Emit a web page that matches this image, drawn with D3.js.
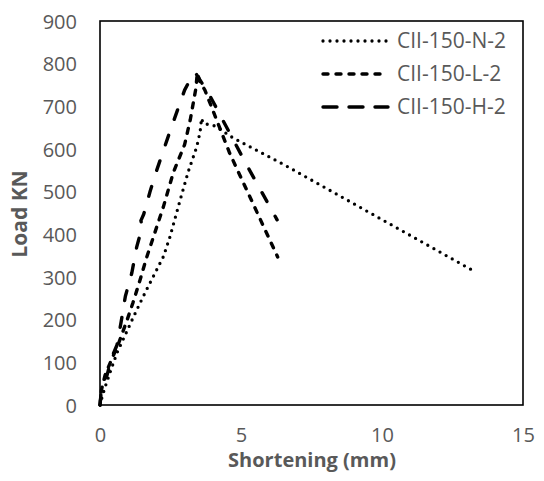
<!DOCTYPE html>
<html>
<head>
<meta charset="utf-8">
<script src="https://cdn.jsdelivr.net/npm/d3@7"></script>
<style>
  html, body { margin: 0; padding: 0; background: #fff; }
  svg text { font-family: "Open Sans", "Liberation Sans", sans-serif; fill: #595959; }
</style>
</head>
<body>
<svg id="chart" width="544" height="481"></svg>
<script>
// ---- data ----
const seriesNames = ["CII-150-N-2", "CII-150-L-2", "CII-150-H-2"];

const n2Shortening = [0, 0.08, 0.18, 0.35, 0.6, 0.9, 1.17, 1.42, 1.65, 1.95, 2.25, 2.48, 2.84, 3.13, 3.43, 3.55, 3.6, 3.66, 3.8, 4.08, 4.72, 6.56, 13.2];
const n2Load       = [0, 20, 42, 75, 122, 165, 204, 239, 270, 309, 348, 394, 480, 547, 605, 640, 672, 660, 658, 654, 626, 562, 316];

const l2Shortening = [0, 0.05, 0.18, 0.4, 0.64, 0.96, 1.17, 1.42, 1.65, 1.9, 2.25, 2.6, 3.0, 3.2, 3.4, 3.45, 3.55, 3.72, 4.6, 6.3];
const l2Load       = [0, 35, 70, 105, 141, 199, 240, 293, 345, 395, 465, 545, 610, 668, 742, 778, 757, 738, 590, 347];

const h2Shortening = [0, 0.04, 0.12, 0.25, 0.42, 0.6, 0.75, 0.9, 1.13, 1.3, 1.5, 1.45, 1.55, 1.77, 2.0, 2.5, 3.0, 3.25, 3.38, 3.85, 4.0, 5.14, 6.28];
const h2Load       = [0, 30, 55, 70, 112, 140, 195, 255, 310, 370, 418, 432, 447, 499, 548, 645, 738, 769, 779, 730, 712, 570, 434];

const xTicks = [0, 5, 10, 15];
const yTicks = [0, 100, 200, 300, 400, 500, 600, 700, 800, 900];
const xTitle = "Shortening (mm)";
const yTitle = "Load KN";

// ---- layout ----
const svg = d3.select("#chart");
const plotLeft = 100, plotTop = 21, plotRight = 523, plotBottom = 405;

const x = d3.scaleLinear().domain([0, 15]).range([plotLeft, plotRight]);
const y = d3.scaleLinear().domain([0, 900]).range([plotBottom, plotTop]);

// plot frame
svg.append("rect")
  .attr("x", plotLeft).attr("y", plotTop)
  .attr("width", plotRight - plotLeft).attr("height", plotBottom - plotTop)
  .attr("fill", "none").attr("stroke", "#000").attr("stroke-width", 1.6);

// axes (labels only, no tick marks)
const xAxis = d3.axisBottom(x).tickValues(xTicks).tickSize(0).tickPadding(0);
const gx = svg.append("g").attr("transform", `translate(0,${plotBottom})`).call(xAxis);
gx.select(".domain").remove();
gx.selectAll("text")
  .attr("y", 30).attr("dy", "0.35em")
  .style("font-size", "20px").style("fill", "#595959")
  .style("font-family", "'Open Sans', sans-serif");

const yAxis = d3.axisLeft(y).tickValues(yTicks).tickSize(0).tickPadding(0);
const gy = svg.append("g").attr("transform", `translate(${plotLeft},0)`).call(yAxis);
gy.select(".domain").remove();
gy.selectAll("text")
  .attr("x", -23).attr("dy", "0.35em")
  .style("font-size", "20px").style("fill", "#595959")
  .style("font-family", "'Open Sans', sans-serif");

// axis titles
svg.append("text")
  .attr("x", 312).attr("y", 460).attr("dy", "0.35em")
  .attr("text-anchor", "middle")
  .style("font-size", "20px").style("font-weight", "bold")
  .text(xTitle);

svg.append("text")
  .attr("transform", `translate(20,214) rotate(-90)`)
  .attr("dy", "0.35em")
  .attr("text-anchor", "middle")
  .style("font-size", "21px").style("font-weight", "bold")
  .text(yTitle);

// series
const styles = [
  { dash: "0 7",  width: 3.3 },
  { dash: "5 8",  width: 3.4 },
  { dash: "10 17", width: 3.4 }
];
const legendDash = ["0 7", "5 8", "14 12"];

const series = [
  d3.zip(n2Shortening, n2Load),
  d3.zip(l2Shortening, l2Load),
  d3.zip(h2Shortening, h2Load)
];

const line = d3.line().x(d => x(d[0])).y(d => y(d[1]));

series.forEach((data, i) => {
  svg.append("path")
    .datum(data)
    .attr("d", line)
    .attr("fill", "none")
    .attr("stroke", "#000")
    .attr("stroke-width", styles[i].width)
    .attr("stroke-linecap", "round")
    .attr("stroke-linejoin", "round")
    .attr("stroke-dasharray", styles[i].dash);
});

// legend
const legendY = [41, 74, 107];
seriesNames.forEach((name, i) => {
  svg.append("line")
    .attr("x1", 323).attr("x2", 388)
    .attr("y1", legendY[i]).attr("y2", legendY[i])
    .attr("stroke", "#000")
    .attr("stroke-width", styles[i].width)
    .attr("stroke-linecap", "round")
    .attr("stroke-dasharray", legendDash[i]);
  svg.append("text")
    .attr("x", 397).attr("y", legendY[i]).attr("dy", "0.35em")
    .style("font-size", "21px")
    .text(name);
});
</script>
</body>
</html>
